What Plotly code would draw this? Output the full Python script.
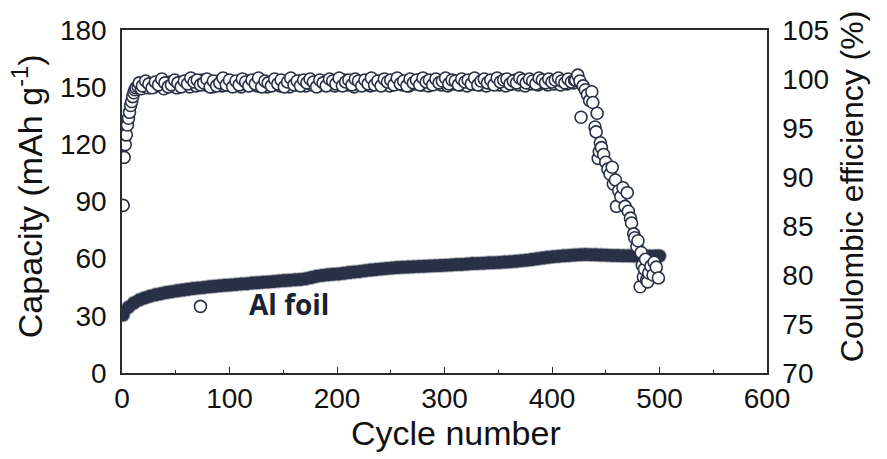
import plotly.graph_objects as go

# Discharge capacity (mAh g^-1), sampled every 5 cycles, plus the final cycle
cap_cycles = list(range(1, 497, 5)) + [500]
capacity = [
    30.5, 34.5, 36.8, 38.3, 39.4, 40.3, 41.0, 41.6, 42.2, 42.7,
    43.1, 43.5, 43.9, 44.3, 44.6, 44.9, 45.2, 45.5, 45.8, 46.0,
    46.2, 46.5, 46.7, 46.9, 47.2, 47.4, 47.6, 47.8, 48.0, 48.3,
    48.5, 48.7, 48.9, 49.1, 49.5, 50.1, 50.8, 51.2, 51.5, 51.8,
    52.0, 52.3, 52.7, 53.0, 53.3, 53.7, 54.0, 54.3, 54.6, 54.9,
    55.1, 55.3, 55.5, 55.6, 55.8, 55.9, 56.0, 56.2, 56.3, 56.4,
    56.6, 56.7, 56.9, 57.0, 57.2, 57.4, 57.5, 57.6, 57.8, 57.9,
    58.0, 58.2, 58.4, 58.6, 58.9, 59.2, 59.5, 59.9, 60.3, 60.7,
    61.0, 61.3, 61.5, 61.7, 61.9, 62.1, 62.2, 62.1, 62.0, 61.9,
    61.8, 61.7, 61.6, 61.5, 61.5, 61.4, 61.4, 61.4, 61.4, 61.4,
    61.4,
]

# Coulombic efficiency (%): formation cycles
ce_early_cycles = [1, 2, 3, 4, 5, 6, 7, 8, 9, 10, 11, 12, 13]
ce_early = [87.1, 92.0, 93.3, 94.3, 95.3, 96.0, 96.6, 97.3, 97.7, 98.2, 98.6, 98.9, 99.1]

# Coulombic efficiency (%): stable cycling, cycles 15, 18, ..., 420
ce_stable_a_cycles = list(range(15, 421, 3))
ce_stable_a = [
    99.2, 99.0, 99.4, 99.1, 99.5, 99.2, 99.6, 99.3, 99.0, 99.5,
    99.7, 99.3, 99.1, 99.6, 99.4, 99.8, 99.2, 99.5, 99.3, 99.7,
    99.9, 99.4, 99.6, 99.2, 99.5, 99.8, 99.3, 99.6, 99.4, 99.7,
    99.3, 99.6, 99.2, 99.5, 99.8, 99.4, 99.6, 99.3, 99.7, 99.5,
    99.2, 99.6, 99.4, 99.8, 99.3, 99.5, 99.7, 99.2, 99.6, 99.4,
    99.8, 99.5, 99.3, 99.6, 99.4, 99.7, 99.3, 99.5, 99.8, 99.4,
    99.6, 99.3, 99.7, 99.5, 99.9, 99.4, 99.6, 99.2, 99.5, 99.7,
    99.4, 99.6, 99.3, 99.8, 99.5, 99.7, 99.4, 99.6, 99.3, 99.7,
    99.5, 99.8, 99.4, 99.6, 99.3, 99.7, 99.5, 99.9, 99.4, 99.6,
    99.3, 99.7, 99.5, 99.8, 99.4, 99.6, 99.3, 99.7, 99.5, 99.8,
    99.4, 99.6, 99.3, 99.7, 99.5, 99.8, 99.4, 99.6, 99.3, 99.7,
    99.5, 99.8, 99.4, 99.6, 99.3, 99.7, 99.5, 99.9, 99.4, 99.6,
    99.3, 99.7, 99.5, 99.8, 99.4, 99.6, 99.7, 99.4, 99.8, 99.5,
    99.7, 99.4, 99.8, 99.5, 99.9, 99.6,
]

# Coulombic efficiency (%): stable cycling, cycles 16, 19, ..., 421
ce_stable_b_cycles = list(range(16, 422, 3))
ce_stable_b = [
    99.6, 99.3, 99.8, 99.5, 99.1, 99.7, 99.4, 100.0, 99.6, 99.2,
    99.4, 99.9, 99.6, 99.2, 99.8, 99.5, 100.1, 99.7, 99.9, 99.4,
    99.6, 100.0, 99.2, 99.8, 99.3, 99.6, 100.1, 99.4, 99.9, 99.2,
    99.8, 99.4, 100.0, 99.7, 99.3, 99.9, 99.5, 100.1, 99.2, 99.8,
    99.6, 99.3, 100.0, 99.5, 99.9, 99.2, 99.7, 100.1, 99.4, 99.8,
    99.3, 99.9, 99.6, 100.0, 99.7, 99.2, 99.9, 99.6, 99.3, 100.0,
    99.8, 99.5, 100.1, 99.3, 99.7, 99.9, 99.4, 100.0, 99.8, 99.3,
    99.9, 99.5, 100.1, 99.4, 99.8, 99.3, 100.0, 99.7, 99.9, 99.4,
    100.1, 99.5, 99.8, 99.3, 100.0, 99.6, 99.9, 99.4, 100.1, 99.7,
    99.9, 99.4, 100.0, 99.6, 99.8, 100.1, 99.5, 99.9, 99.8, 99.4,
    100.0, 99.7, 99.9, 99.5, 100.1, 99.4, 99.8, 100.0, 99.6, 99.9,
    99.4, 100.1, 99.7, 99.9, 100.0, 99.5, 99.8, 99.6, 100.1, 99.9,
    99.6, 100.0, 99.8, 99.5, 100.1, 99.9, 99.6, 100.0, 99.7, 99.9,
    100.1, 99.8, 99.6, 100.0, 99.7, 99.9,
]

# Single low-efficiency outlier
ce_outlier_cycles = [73]
ce_outlier = [76.8]

# Coulombic efficiency (%): failure region
ce_tail_cycles = [
    422, 424, 426, 427, 429, 431, 433, 435, 437, 438,
    440, 441, 442, 443, 444, 445, 446, 448, 450, 452,
    454, 456, 457, 459, 460, 462, 464, 466, 468, 470,
    471, 473, 474, 476, 477, 479, 480, 482, 483, 484,
    485, 486, 487, 488, 489, 490, 492, 494, 495, 497,
    499,
]
ce_tail = [
    99.9, 100.4, 99.8, 96.1, 99.3, 98.9, 98.4, 97.8, 98.7, 97.6,
    95.1, 94.6, 96.5, 91.9, 92.6, 93.5, 93.0, 92.3, 91.5, 90.8,
    90.3, 91.0, 89.3, 89.7, 87.0, 88.6, 88.0, 88.9, 87.0, 88.4,
    86.5, 85.8, 85.3, 84.2, 83.8, 82.9, 83.5, 78.8, 82.3, 81.0,
    79.8, 80.6, 81.6, 79.5, 79.3, 80.2, 80.9, 80.0, 81.3, 80.8,
    79.7,
]

ce_cycles = (ce_early_cycles + ce_outlier_cycles + ce_stable_a_cycles
             + ce_stable_b_cycles + ce_tail_cycles)
ce_values = ce_early + ce_outlier + ce_stable_a + ce_stable_b + ce_tail

NAVY = "#283145"
AXIS = "#2b2b2b"
TEXT = "#111111"
FONT = "Liberation Sans, Arial, sans-serif"

fig = go.Figure()

# soft halo under the capacity band, then the solid band
fig.add_trace(go.Scatter(
    x=cap_cycles, y=capacity, mode="markers", yaxis="y",
    marker=dict(size=15, color=NAVY, opacity=0.35, line=dict(width=0)),
    hoverinfo="skip", showlegend=False,
))
fig.add_trace(go.Scatter(
    x=cap_cycles, y=capacity, mode="markers", yaxis="y",
    marker=dict(size=13, color=NAVY, line=dict(width=0)),
    name="Capacity", showlegend=False,
))
fig.add_trace(go.Scatter(
    x=ce_cycles, y=ce_values, mode="markers", yaxis="y2",
    marker=dict(size=12, color="white", line=dict(width=1.6, color=NAVY)),
    name="Coulombic efficiency", showlegend=False,
))

fig.update_layout(
    width=887, height=459,
    margin=dict(l=122, r=120, t=30, b=86),
    paper_bgcolor="white", plot_bgcolor="white",
    font=dict(family=FONT, size=28, color=TEXT),
    xaxis=dict(
        range=[0, 600], dtick=100, tick0=0,
        ticks="inside", ticklen=6, tickwidth=1.4, tickcolor=AXIS,
        minor=dict(dtick=50, ticks="inside", ticklen=3.5, tickwidth=1.2, tickcolor=AXIS),
        showline=True, linecolor=AXIS, linewidth=1.5, mirror=True,
        showgrid=False, zeroline=False,
        tickfont=dict(size=28, color=TEXT),
    ),
    yaxis=dict(
        range=[0, 180], dtick=30, tick0=0, ticks="",
        showline=True, linecolor=AXIS, linewidth=1.5,
        showgrid=False, zeroline=False,
        tickfont=dict(size=28, color=TEXT), ticklabelstandoff=8,
    ),
    yaxis2=dict(
        range=[70, 105], dtick=5, tick0=70, ticks="",
        overlaying="y", side="right",
        showline=True, linecolor=AXIS, linewidth=1.5,
        showgrid=False, zeroline=False,
        tickfont=dict(size=28, color=TEXT), ticklabelstandoff=8,
    ),
    annotations=[
        dict(text="Cycle number", xref="paper", yref="paper", x=0.518, y=-0.175,
             xanchor="center", yanchor="middle", showarrow=False,
             font=dict(family=FONT, size=34, color=TEXT)),
        dict(text="Capacity (mAh g<sup>-1</sup>)", xref="paper", yref="paper",
             x=-0.147, y=0.516, xanchor="center", yanchor="middle", textangle=-90,
             showarrow=False, font=dict(family=FONT, size=34, color=TEXT)),
        dict(text="Coulombic efficiency (%)", xref="paper", yref="paper",
             x=1.133, y=0.544, xanchor="center", yanchor="middle", textangle=-90,
             showarrow=False, font=dict(family=FONT, size=32, color=TEXT)),
        dict(text="<b>Al foil</b>", xref="x", yref="y", x=155, y=36,
             xanchor="center", yanchor="middle", showarrow=False,
             font=dict(family="Open Sans, Liberation Sans, sans-serif", size=28, color="#1b2232")),
    ],
)

fig.write_html("out.html")
